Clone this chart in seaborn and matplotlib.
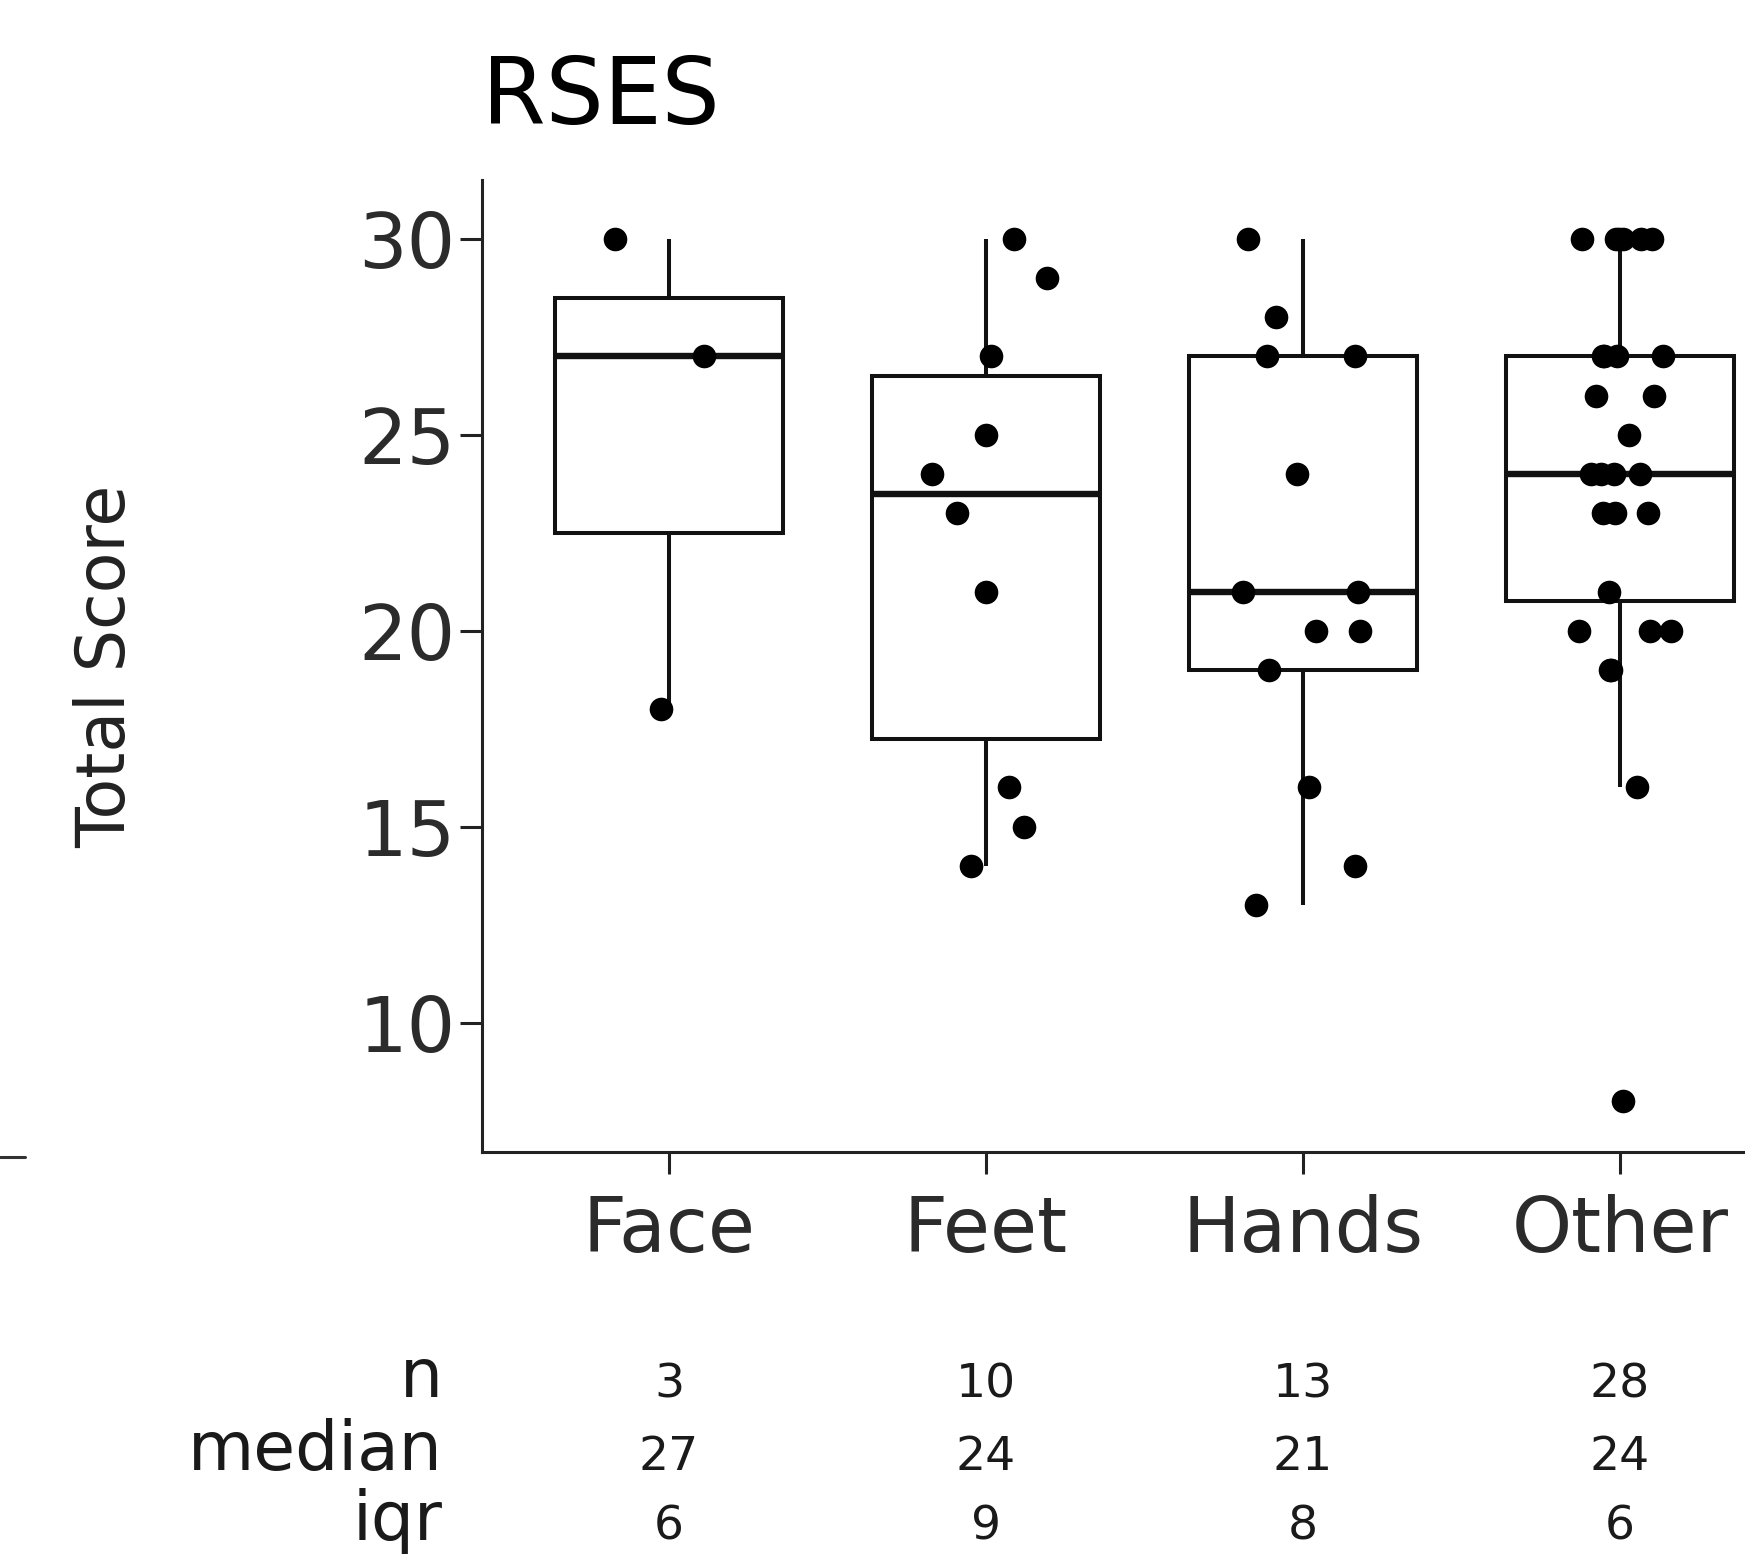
import numpy as np
import pandas as pd
import matplotlib
matplotlib.use("Agg")
import matplotlib.pyplot as plt
import seaborn as sns
from matplotlib.lines import Line2D
from matplotlib.transforms import blended_transform_factory

# Datos (puntuación total RSES por zona)
sites = ["Face", "Feet", "Hands", "Other"]
face_scores = [30, 27, 18]
feet_scores = [30, 29, 27, 25, 24, 23, 21, 16, 15, 14]
hands_scores = [30, 28, 27, 27, 24, 21, 21, 20, 20, 19, 16, 14, 13]
other_scores = [30, 30, 30, 30, 30, 30, 27, 27, 27, 27, 26, 26, 25, 24,
                24, 24, 24, 23, 23, 23, 21, 20, 20, 20, 19, 19, 16, 8]
y_ticks = [10, 15, 20, 25, 30]
table_rows = ["n", "median", "iqr"]

groups = [face_scores, feet_scores, hands_scores, other_scores]
df = pd.DataFrame({
    "site": np.repeat(sites, [len(g) for g in groups]),
    "score": np.concatenate(groups),
})

# Tabla resumen (n, mediana, rango intercuartílico)
summary = {
    "n": [len(g) for g in groups],
    "median": [int(round(np.median(g))) for g in groups],
    "iqr": [int(round(np.percentile(g, 75) - np.percentile(g, 25))) for g in groups],
}

sns.set_style("ticks")
plt.rcParams["font.family"] = ["DejaVu Sans"]

W, H = 1745, 1560
fig = plt.figure(figsize=(W / 100, H / 100), dpi=100)
fig.patch.set_facecolor("white")
ax = fig.add_axes([482 / W, 1 - 1152 / H, 1328 / W, 972 / H])

np.random.seed(7)
sns.boxplot(data=df, x="site", y="score", order=sites, width=0.72,
            color="white", linecolor="#111111", saturation=1, linewidth=2.9,
            showcaps=False, showfliers=False,
            medianprops={"linewidth": 4.6}, ax=ax)
sns.stripplot(data=df, x="site", y="score", order=sites, color="black",
              size=17, jitter=0.2, linewidth=0, zorder=3, ax=ax)

ax.set_xlim(-0.59, 3.6)
ax.set_ylim(6.7, 31.5)
ax.set_yticks(y_ticks)
ax.set_xlabel("")
ax.set_ylabel("Total Score", fontsize=48, color="#222222")
ax.yaxis.label.set_va("center")
ax.yaxis.set_label_coords(-0.283, 0.5)
ax.set_title("RSES", loc="left", fontsize=66, pad=40, color="black")

sns.despine(ax=ax)
for side in ["left", "bottom"]:
    ax.spines[side].set_linewidth(2.2)
    ax.spines[side].set_color("#222222")
ax.tick_params(axis="both", length=16, width=2.2, color="#222222",
               labelsize=55, labelcolor="#2b2b2b")
ax.tick_params(axis="y", pad=3)
ax.tick_params(axis="x", pad=14)

# Tabla bajo el eje
row_y = [1 - 1397 / H, 1 - 1470 / H, 1 - 1540 / H]
trans = blended_transform_factory(ax.transData, fig.transFigure)
for row, y in zip(table_rows, row_y):
    fig.text(443 / W, y, row, ha="right", va="baseline", fontsize=49, color="#1a1a1a")
    for i, val in enumerate(summary[row]):
        ax.text(i, y, str(val), transform=trans, ha="center", va="baseline",
                fontsize=34, color="#1a1a1a", clip_on=False)

# resto del panel vecino
fig.add_artist(Line2D([0, 25 / W], [1 - 1157 / H] * 2, color="#333333", lw=2.2))

plt.savefig("out.png", dpi=100, facecolor="white")
